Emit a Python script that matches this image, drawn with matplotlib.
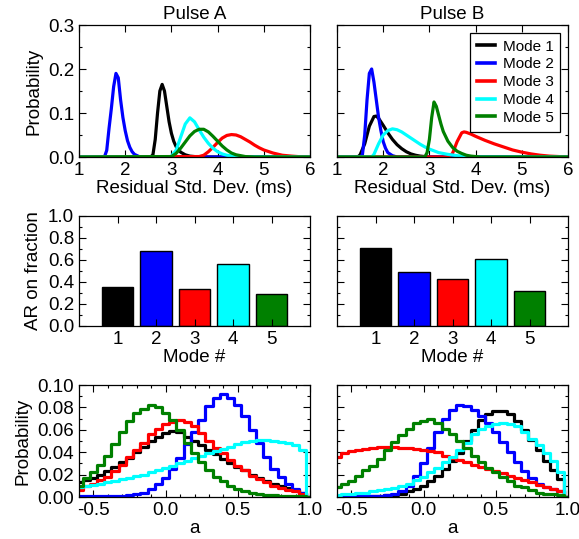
import numpy as np
import matplotlib
matplotlib.use("Agg")
import matplotlib.pyplot as plt
from matplotlib.ticker import MultipleLocator, FormatStrFormatter

plt.rcParams['font.family'] = ['Liberation Sans', 'DejaVu Sans']
plt.rcParams['font.size'] = 13.5

COLORS = ['#000000', '#0000ff', '#ff0000', '#00ffff', '#008000']
MODES = ['Mode 1', 'Mode 2', 'Mode 3', 'Mode 4', 'Mode 5']

# --- residual std. dev. distributions (ms, probability) ---
a_m1_x = [1.0, 2.55, 2.6, 2.65, 2.7, 2.75, 2.8, 2.85, 2.9, 2.95, 3.0, 3.05, 3.1, 3.2, 3.3, 3.4, 3.6, 6.0]
a_m1_y = [0, 0, 0.005, 0.04, 0.10, 0.15, 0.165, 0.15, 0.115, 0.08, 0.054, 0.036, 0.024, 0.011, 0.005, 0.002, 0, 0]
a_m2_x = [1.0, 1.55, 1.6, 1.65, 1.7, 1.75, 1.8, 1.85, 1.9, 1.95, 2.0, 2.05, 2.1, 2.15, 2.2, 2.3, 2.5, 6.0]
a_m2_y = [0, 0, 0.015, 0.065, 0.11, 0.16, 0.19, 0.18, 0.13, 0.09, 0.06, 0.037, 0.022, 0.012, 0.006, 0.001, 0, 0]
a_m3_x = [1.0, 3.6, 3.7, 3.8, 3.9, 4.0, 4.1, 4.2, 4.3, 4.4, 4.5, 4.6, 4.7, 4.8, 4.9, 5.0, 5.2, 5.4, 5.6, 5.8, 6.0]
a_m3_y = [0, 0.001, 0.004, 0.012, 0.022, 0.033, 0.043, 0.049, 0.051, 0.05, 0.046, 0.04, 0.034, 0.027, 0.021, 0.016, 0.009, 0.004, 0.002, 0.0005, 0]
a_m4_x = [1.0, 2.95, 3.0, 3.1, 3.2, 3.3, 3.4, 3.5, 3.6, 3.7, 3.8, 3.9, 4.0, 4.1, 4.2, 4.4, 4.6, 6.0]
a_m4_y = [0, 0, 0.002, 0.015, 0.045, 0.075, 0.089, 0.08, 0.062, 0.045, 0.031, 0.02, 0.012, 0.007, 0.004, 0.001, 0, 0]
a_m5_x = [1.0, 3.0, 3.1, 3.2, 3.3, 3.4, 3.5, 3.6, 3.7, 3.8, 3.9, 4.0, 4.1, 4.2, 4.3, 4.4, 4.6, 4.8, 6.0]
a_m5_y = [0, 0.001, 0.008, 0.02, 0.034, 0.048, 0.058, 0.063, 0.063, 0.057, 0.047, 0.036, 0.025, 0.016, 0.009, 0.005, 0.001, 0, 0]

b_m1_x = [1.0, 1.45, 1.5, 1.6, 1.7, 1.8, 1.85, 1.9, 2.0, 2.1, 2.2, 2.3, 2.4, 2.5, 2.6, 2.7, 2.8, 3.0, 6.0]
b_m1_y = [0, 0, 0.005, 0.03, 0.07, 0.092, 0.093, 0.088, 0.072, 0.055, 0.04, 0.028, 0.019, 0.012, 0.007, 0.004, 0.002, 0, 0]
b_m2_x = [1.0, 1.5, 1.55, 1.6, 1.65, 1.7, 1.75, 1.8, 1.85, 1.9, 1.95, 2.0, 2.05, 2.1, 2.2, 2.3, 6.0]
b_m2_y = [0, 0, 0.005, 0.05, 0.13, 0.19, 0.2, 0.17, 0.13, 0.09, 0.06, 0.035, 0.02, 0.01, 0.003, 0, 0]
b_m3_x = [1.0, 3.4, 3.5, 3.6, 3.7, 3.75, 3.8, 3.9, 4.0, 4.2, 4.4, 4.6, 4.8, 5.0, 5.2, 5.4, 5.6, 5.8, 6.0]
b_m3_y = [0, 0, 0.008, 0.035, 0.055, 0.057, 0.056, 0.052, 0.047, 0.038, 0.03, 0.023, 0.016, 0.011, 0.007, 0.004, 0.002, 0.001, 0]
b_m4_x = [1.0, 1.75, 1.8, 1.9, 2.0, 2.1, 2.2, 2.3, 2.4, 2.5, 2.6, 2.7, 2.8, 2.9, 3.0, 3.2, 3.4, 3.6, 3.8, 4.0, 6.0]
b_m4_y = [0, 0, 0.006, 0.03, 0.05, 0.06, 0.064, 0.062, 0.057, 0.05, 0.043, 0.036, 0.029, 0.023, 0.018, 0.01, 0.006, 0.003, 0.001, 0, 0]
b_m5_x = [1.0, 2.9, 2.95, 3.0, 3.05, 3.1, 3.15, 3.2, 3.25, 3.3, 3.4, 3.5, 3.6, 3.7, 3.8, 3.9, 4.1, 6.0]
b_m5_y = [0, 0, 0.01, 0.04, 0.09, 0.125, 0.115, 0.095, 0.075, 0.058, 0.036, 0.022, 0.013, 0.008, 0.004, 0.002, 0, 0]

# --- AR on fraction per mode ---
mode_num = [1, 2, 3, 4, 5]
ar_a = [0.358, 0.679, 0.333, 0.564, 0.288]
ar_b = [0.709, 0.491, 0.424, 0.606, 0.321]

# --- histograms of a (bin centres -0.6 .. 1.0, step 0.05) ---
a_bins = np.round(np.arange(-0.6, 1.0001, 0.05), 2)
ha_m1 = [0.013, 0.015, 0.017, 0.020, 0.023, 0.027, 0.031, 0.035, 0.040, 0.045, 0.050, 0.054, 0.057, 0.059, 0.058,
         0.054, 0.050, 0.046, 0.042, 0.038, 0.034, 0.030, 0.027, 0.024, 0.020, 0.017, 0.014, 0.012, 0.010, 0.008,
         0.006, 0.004, 0.0]
ha_m2 = [0.0005, 0.0005, 0.0005, 0.0005, 0.0005, 0.001, 0.001, 0.0015, 0.0025, 0.004, 0.007, 0.012, 0.017, 0.025,
         0.035, 0.047, 0.058, 0.069, 0.081, 0.088, 0.092, 0.088, 0.082, 0.072, 0.060, 0.048, 0.036, 0.025, 0.0175,
         0.0115, 0.007, 0.004, 0.0]
ha_m3 = [0.006, 0.010, 0.012, 0.015, 0.018, 0.023, 0.029, 0.036, 0.042, 0.048, 0.056, 0.061, 0.065, 0.067, 0.069,
         0.067, 0.063, 0.057, 0.050, 0.044, 0.039, 0.033, 0.028, 0.024, 0.019, 0.016, 0.013, 0.010, 0.008, 0.006,
         0.005, 0.003, 0.0]
ha_m4 = [0.009, 0.010, 0.011, 0.012, 0.013, 0.014, 0.016, 0.017, 0.019, 0.020, 0.022, 0.024, 0.026, 0.028, 0.030,
         0.032, 0.035, 0.037, 0.039, 0.041, 0.043, 0.045, 0.047, 0.049, 0.050, 0.051, 0.051, 0.050, 0.049, 0.048,
         0.046, 0.042, 0.0]
ha_m5 = [0.010, 0.017, 0.022, 0.029, 0.037, 0.047, 0.058, 0.068, 0.075, 0.079, 0.082, 0.080, 0.075, 0.069, 0.060,
         0.048, 0.039, 0.031, 0.024, 0.018, 0.014, 0.010, 0.007, 0.005, 0.004, 0.003, 0.002, 0.0015, 0.001, 0.001,
         0.0005, 0.0005, 0.0]

hb_m1 = [0.0005, 0.0005, 0.0005, 0.0005, 0.0005, 0.0005, 0.001, 0.0015, 0.002, 0.003, 0.005, 0.007, 0.010, 0.014,
         0.019, 0.025, 0.032, 0.039, 0.050, 0.060, 0.069, 0.074, 0.077, 0.077, 0.074, 0.068, 0.060, 0.051, 0.042,
         0.032, 0.024, 0.016, 0.0]
hb_m2 = [0.0005, 0.0005, 0.0005, 0.0005, 0.0005, 0.0005, 0.001, 0.0015, 0.003, 0.005, 0.010, 0.019, 0.030, 0.044,
         0.058, 0.070, 0.078, 0.082, 0.081, 0.078, 0.072, 0.066, 0.058, 0.049, 0.040, 0.031, 0.023, 0.017, 0.012,
         0.009, 0.007, 0.005, 0.0]
hb_m3 = [0.036, 0.039, 0.041, 0.042, 0.043, 0.044, 0.045, 0.045, 0.045, 0.044, 0.044, 0.043, 0.042, 0.041, 0.040,
         0.037, 0.035, 0.033, 0.031, 0.029, 0.027, 0.025, 0.023, 0.021, 0.019, 0.017, 0.015, 0.013, 0.011, 0.009,
         0.007, 0.005, 0.0]
hb_m4 = [0.002, 0.0025, 0.003, 0.0035, 0.004, 0.005, 0.006, 0.007, 0.008, 0.010, 0.012, 0.015, 0.018, 0.022, 0.026,
         0.031, 0.036, 0.042, 0.048, 0.056, 0.061, 0.063, 0.065, 0.066, 0.065, 0.063, 0.058, 0.052, 0.046, 0.039,
         0.032, 0.022, 0.0]
hb_m5 = [0.009, 0.0115, 0.0145, 0.019, 0.024, 0.028, 0.034, 0.042, 0.049, 0.055, 0.061, 0.066, 0.068, 0.070, 0.066,
         0.061, 0.056, 0.050, 0.044, 0.037, 0.031, 0.026, 0.022, 0.018, 0.014, 0.010, 0.0085, 0.006, 0.004, 0.003,
         0.0025, 0.002, 0.0]

sd_curves = [
    [(a_m1_x, a_m1_y), (a_m2_x, a_m2_y), (a_m3_x, a_m3_y), (a_m4_x, a_m4_y), (a_m5_x, a_m5_y)],
    [(b_m1_x, b_m1_y), (b_m2_x, b_m2_y), (b_m3_x, b_m3_y), (b_m4_x, b_m4_y), (b_m5_x, b_m5_y)],
]
ar_vals = [ar_a, ar_b]
hists = [[ha_m1, ha_m2, ha_m3, ha_m4, ha_m5], [hb_m1, hb_m2, hb_m3, hb_m4, hb_m5]]
titles = ['Pulse A', 'Pulse B']

W, H = 579, 539
fig = plt.figure(figsize=(W / 100, H / 100), dpi=100)

col_left = [79 / W, 337 / W]
col_w = 231 / W
rows = [(1 - 157 / H, 132 / H), (1 - 326 / H, 110 / H), (1 - 497 / H, 112 / H)]


def style(ax):
    ax.tick_params(which='both', direction='in', top=True, right=True, width=0.8, colors='black')
    ax.tick_params(which='major', length=5)
    ax.tick_params(which='minor', length=2.5)
    for s in ax.spines.values():
        s.set_linewidth(0.9)


for c in range(2):
    # top: residual std. dev.
    ax = fig.add_axes([col_left[c], rows[0][0], col_w, rows[0][1]])
    for (x, y), col, lab in zip(sd_curves[c], COLORS, MODES):
        ax.plot(x, y, color=col, lw=2.3, label=lab)
    ax.set_xlim(1, 6)
    ax.set_ylim(0, 0.3)
    ax.xaxis.set_major_locator(MultipleLocator(1))
    ax.yaxis.set_major_locator(MultipleLocator(0.1))
    ax.yaxis.set_minor_locator(MultipleLocator(0.05))
    ax.yaxis.set_major_formatter(FormatStrFormatter('%.1f'))
    ax.set_xlabel('Residual Std. Dev. (ms)', labelpad=1)
    ax.set_title(titles[c], fontsize=13.5, pad=4)
    style(ax)
    if c == 0:
        ax.set_ylabel('Probability')
    else:
        ax.set_yticklabels([])
        leg = ax.legend(loc='upper right', fontsize=11, handlelength=1.2, handletextpad=0.5,
                        labelspacing=0.25, borderpad=0.45, borderaxespad=0.5, fancybox=False,
                        framealpha=1)
        leg.get_frame().set_edgecolor('black')
        leg.get_frame().set_linewidth(0.9)
        for ln in leg.get_lines():
            ln.set_linewidth(2.6)

    # middle: AR on fraction
    ax = fig.add_axes([col_left[c], rows[1][0], col_w, rows[1][1]])
    ax.bar(mode_num, ar_vals[c], width=0.81, color=COLORS, edgecolor='black', linewidth=1)
    ax.set_xlim(0, 6)
    ax.set_ylim(0, 1)
    ax.set_xticks(mode_num)
    ax.yaxis.set_major_locator(MultipleLocator(0.2))
    ax.yaxis.set_minor_locator(MultipleLocator(0.1))
    ax.yaxis.set_major_formatter(FormatStrFormatter('%.1f'))
    ax.set_xlabel('Mode #', labelpad=1)
    style(ax)
    if c == 0:
        ax.set_ylabel('AR on fraction')
    else:
        ax.set_yticklabels([])

    # bottom: histograms of a
    ax = fig.add_axes([col_left[c], rows[2][0], col_w, rows[2][1]])
    for vals, col in zip(hists[c], COLORS):
        ax.plot(a_bins, vals, drawstyle='steps-mid', color=col, lw=2.3)
    ax.set_xlim(-0.6, 1.0)
    ax.set_ylim(0, 0.1)
    ax.xaxis.set_major_locator(MultipleLocator(0.5))
    ax.xaxis.set_minor_locator(MultipleLocator(0.1))
    ax.xaxis.set_major_formatter(FormatStrFormatter('%.1f'))
    ax.yaxis.set_major_locator(MultipleLocator(0.02))
    ax.yaxis.set_minor_locator(MultipleLocator(0.01))
    ax.yaxis.set_major_formatter(FormatStrFormatter('%.2f'))
    ax.set_xlabel('a', labelpad=1)
    style(ax)
    if c == 0:
        ax.set_ylabel('Probability')
    else:
        ax.set_yticklabels([])

fig.savefig('out.png', dpi=100, facecolor='white')
